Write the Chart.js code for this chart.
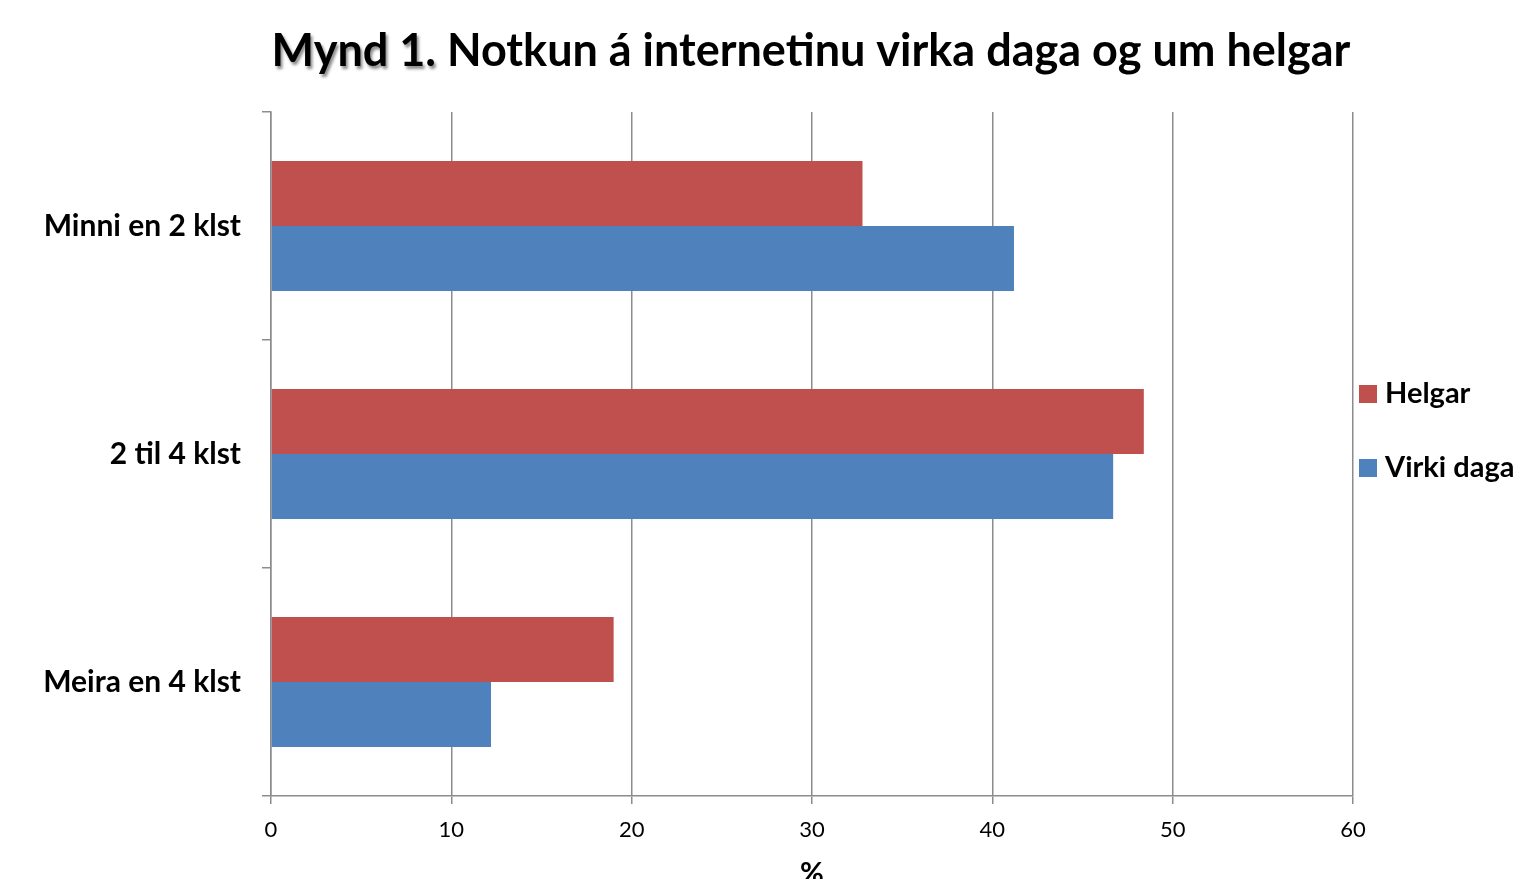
<!DOCTYPE html>
<html>
<head>
<meta charset="utf-8">
<script src="https://cdn.jsdelivr.net/npm/chart.js@4.4.0/dist/chart.umd.min.js"></script>
<style>
    html, body { margin: 0; padding: 0; background: #fff; overflow: hidden; }
    #wrap { width: 1513px; height: 879px; position: relative; }
</style>
</head>
<body>
<div id="wrap"><canvas id="chart"></canvas></div>
<script>
// Gögn lesin af myndinni
const flokkar = ['Minni en 2 klst', '2 til 4 klst', 'Meira en 4 klst'];
const helgar = [32.8, 48.4, 19.0];
const virkiDaga = [41.2, 46.7, 12.2];
const xTicks = [0, 10, 20, 30, 40, 50, 60];

const titillA = 'Mynd 1.';
const titillB = ' Notkun á internetinu virka daga og um helgar';

const grar = '#8c8c8c';

// Titill teiknaður sjálfur (skuggi á "Mynd 1.")
const titilPlugin = {
    id: 'titill',
    afterDraw(chart) {
        const ctx = chart.ctx;
        ctx.save();
        ctx.font = 'bold 45px Lato';
        ctx.textBaseline = 'alphabetic';
        const wa = ctx.measureText(titillA).width;
        const wb = ctx.measureText(titillB).width;
        const x0 = 811 - (wa + wb) / 2;
        ctx.fillStyle = '#000';
        ctx.shadowColor = 'rgba(0,0,0,0.45)';
        ctx.shadowOffsetX = 2;
        ctx.shadowOffsetY = 3;
        ctx.shadowBlur = 3;
        ctx.fillText(titillA, x0, 66);
        ctx.shadowColor = 'transparent';
        ctx.fillText(titillB, x0 + wa, 66);
        ctx.restore();
    }
};

// Skýringar hægra megin
const skyringPlugin = {
    id: 'skyring',
    afterDraw(chart) {
        const ctx = chart.ctx;
        const ca = chart.chartArea;
        ctx.save();
        ctx.font = 'bold 29px Lato';
        ctx.textBaseline = 'middle';
        chart.data.datasets.forEach((ds, i) => {
            const y = 394 + i * 74;
            ctx.fillStyle = ds.backgroundColor;
            ctx.fillRect(ca.right + 6, y - 9, 18, 18);
            ctx.fillStyle = '#000';
            ctx.fillText(ds.label, ca.right + 32, y);
        });
        ctx.restore();
    }
};

const chart = new Chart(document.getElementById('chart'), {
    type: 'bar',
    data: {
        labels: flokkar,
        datasets: [{
            label: 'Helgar',
            data: helgar,
            backgroundColor: '#C0504D',
            categoryPercentage: 0.57,
            barPercentage: 1.0
        }, {
            label: 'Virki daga',
            data: virkiDaga,
            backgroundColor: '#4F81BD',
            categoryPercentage: 0.57,
            barPercentage: 1.0
        }]
    },
    options: {
        indexAxis: 'y',
        responsive: true,
        maintainAspectRatio: false,
        animation: false,
        layout: {
            padding: { top: 112, right: 160, bottom: 0, left: 0 }
        },
        plugins: {
            legend: { display: false },
            title: { display: false },
            tooltip: { enabled: false }
        },
        scales: {
            x: {
                min: 0,
                max: 60,
                afterBuildTicks: (scale) => {
                    scale.ticks = xTicks.map(v => ({ value: v }));
                },
                afterFit: (scale) => {
                    scale.height = 83;
                },
                grid: {
                    color: grar,
                    lineWidth: 1.5,
                    drawTicks: true,
                    tickLength: 8,
                    tickColor: grar
                },
                border: { display: true, color: grar, width: 1.5 },
                ticks: {
                    color: '#000',
                    padding: 13,
                    font: { family: 'Lato', size: 22 }
                },
                title: {
                    display: true,
                    text: '%',
                    color: '#000',
                    font: { family: 'Lato', size: 29, weight: 'bold' },
                    padding: { top: 0, bottom: -12 }
                }
            },
            y: {
                afterFit: (scale) => {
                    scale.width = 271;
                },
                grid: {
                    offset: true,
                    drawOnChartArea: false,
                    drawTicks: true,
                    tickLength: 9,
                    tickColor: grar,
                    lineWidth: 1.5
                },
                border: { display: true, color: grar, width: 1.5 },
                ticks: {
                    color: '#000',
                    padding: 21,
                    font: { family: 'Lato', size: 30, weight: 'bold' }
                }
            }
        }
    },
    plugins: [titilPlugin, skyringPlugin]
});
</script>
</body>
</html>
